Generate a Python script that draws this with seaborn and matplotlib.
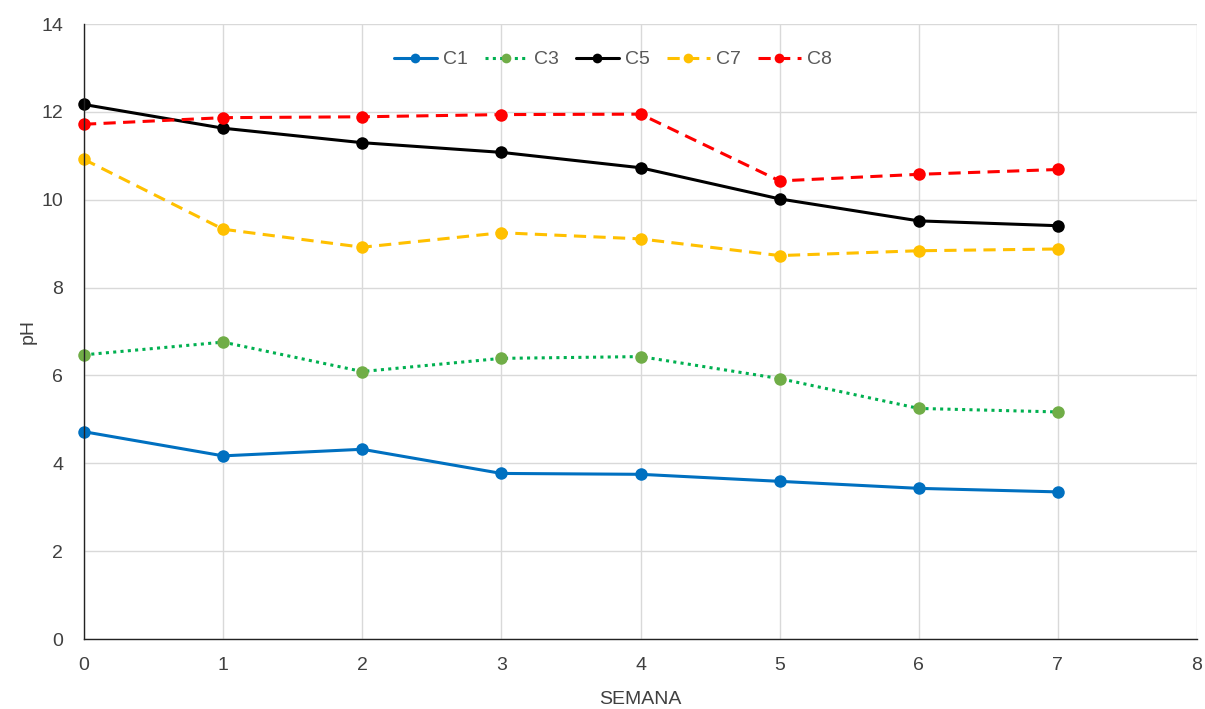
#!/usr/bin/env python3
"""pH por semana para los tratamientos C1, C3, C5, C7 y C8."""

import matplotlib

matplotlib.use("Agg")
import matplotlib.lines as mlines
import matplotlib.pyplot as plt
import pandas as pd
import seaborn as sns

SEMANA = [0, 1, 2, 3, 4, 5, 6, 7]

C1 = [4.72, 4.17, 4.32, 3.77, 3.75, 3.59, 3.43, 3.35]
C3 = [6.47, 6.76, 6.09, 6.39, 6.43, 5.93, 5.25, 5.17]
C5 = [12.17, 11.63, 11.30, 11.08, 10.73, 10.02, 9.52, 9.41]
C7 = [10.92, 9.33, 8.92, 9.25, 9.11, 8.73, 8.84, 8.88]
C8 = [11.72, 11.87, 11.89, 11.94, 11.95, 10.43, 10.58, 10.69]

SERIES = {"C1": C1, "C3": C3, "C5": C5, "C7": C7, "C8": C8}

# line colour, marker colour, dash pattern (None = solid)
STYLE = {
    "C1": ("#0070C0", "#0070C0", None),
    "C3": ("#00B050", "#70AD47", (1, 1.4)),
    "C5": ("#000000", "#000000", None),
    "C7": ("#FFC000", "#FFC000", (4, 2.4)),
    "C8": ("#FF0000", "#FF0000", (4, 2.4)),
}

TEXT_GRAY = "#404040"
LEGEND_GRAY = "#595959"


def main() -> None:
    sns.set_theme(style="white")
    plt.rcParams["font.family"] = ["Liberation Sans", "DejaVu Sans"]

    long_df = pd.concat(
        [pd.DataFrame({"semana": SEMANA, "pH": vals, "serie": name}) for name, vals in SERIES.items()],
        ignore_index=True,
    )

    fig = plt.figure(figsize=(12.05, 7.09), dpi=100)
    ax = fig.add_axes((0.0697, 0.0987, 0.9237, 0.8673))

    handles = []
    for name in SERIES:
        lc, mc, dash = STYLE[name]
        sub = long_df[long_df["serie"] == name]
        sns.lineplot(data=sub, x="semana", y="pH", color=lc, linewidth=2.2,
                     marker="o", markersize=9, markeredgewidth=0,
                     markerfacecolor=mc, ax=ax, legend=False)
        line = ax.lines[-1]
        line.set_clip_on(False)
        if dash is not None:
            line.set_dashes(dash)
        handles.append(mlines.Line2D([], [], color=lc, linewidth=2.2, marker="o",
                                     markersize=7, markeredgewidth=0, markerfacecolor=mc,
                                     dashes=dash if dash else (None, None), label=name))

    ax.set_xlim(0, 8)
    ax.set_ylim(0, 14)
    ax.set_xticks(range(0, 9))
    ax.set_yticks(range(0, 15, 2))
    ax.grid(True, color="#D9D9D9", linewidth=1.0)
    ax.set_axisbelow(True)
    for side in ("top", "right"):
        ax.spines[side].set_visible(False)
    for side in ("left", "bottom"):
        ax.spines[side].set_color("#222222")
        ax.spines[side].set_linewidth(1.0)
    ax.tick_params(axis="y", labelsize=14, labelcolor=TEXT_GRAY, length=0, pad=15)
    ax.tick_params(axis="x", labelsize=14, labelcolor=TEXT_GRAY, length=0, pad=13)

    ax.set_xlabel("SEMANA", fontsize=14, color=TEXT_GRAY, labelpad=12)
    ax.set_ylabel("pH", fontsize=14, color=TEXT_GRAY, labelpad=3)

    leg = ax.legend(handles=handles, loc="upper center", bbox_to_anchor=(0.475, 0.985),
                    ncol=5, frameon=False, fontsize=14, handlelength=2.2,
                    handletextpad=0.3, columnspacing=0.9)
    for t in leg.get_texts():
        t.set_color(LEGEND_GRAY)

    fig.savefig("out.png", dpi=100)
    plt.close(fig)


if __name__ == "__main__":
    main()
